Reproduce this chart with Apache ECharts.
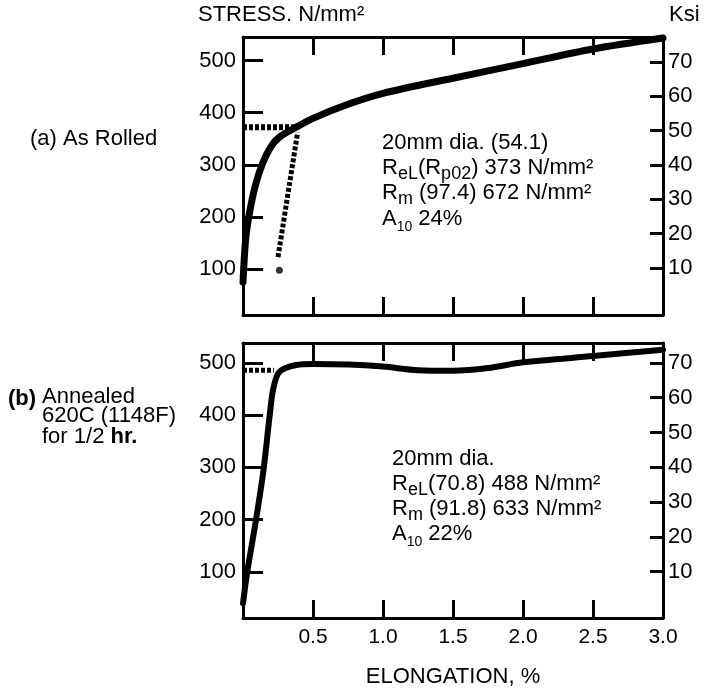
<!DOCTYPE html>
<html>
<head>
<meta charset="utf-8">
<script src="https://cdn.jsdelivr.net/npm/echarts@6/dist/echarts.min.js"></script>
<style>
  html, body { margin: 0; padding: 0; background: #fff; }
  #chart { width: 709px; height: 689px; }
</style>
</head>
<body>
<div id="chart"></div>
<script>
const FONT = "Liberation Sans"

// (a) as rolled
const rolledElongation = [0, 0.02, 0.05, 0.09, 0.14, 0.2, 0.26, 0.38, 0.5, 0.75, 1.0, 1.5, 2.0, 2.5, 3.0]
const rolledStress = [75, 160, 213, 262, 303, 335, 353, 372, 389, 416, 437, 466, 494, 522, 543]
const rolledYieldX = [0, 0.38]
const rolledYieldY = [372, 372]
const rolledOffsetX = [0.25, 0.39]
const rolledOffsetY = [123, 362]
const rolledOffsetDot = [0.26, 98]

// (b) annealed 620C for 1/2 hr
const annealedElongation = [0, 0.03, 0.09, 0.145, 0.19, 0.215, 0.26, 0.38, 0.5, 0.75, 1.0, 1.25, 1.5, 1.75, 2.0, 2.5, 3.0]
const annealedStress = [40, 100, 195, 292, 398, 449, 483, 496, 498, 497, 493, 486, 485, 490, 501, 513, 525]
const annealedYieldX = [0, 0.22]
const annealedYieldY = [486, 486]

const stressTicks = [100, 200, 300, 400, 500]
const ksiTicks = [10, 20, 30, 40, 50, 60, 70]
const elongationTicks = [0.5, 1.0, 1.5, 2.0, 2.5]
const elongationLabels = [0.5, 1.0, 1.5, 2.0, 2.5, 3.0]

const zip = (xs, ys) => xs.map((x, i) => [x, ys[i]])
const black = "#000"
const labelStyle = { color: black, fontFamily: FONT, fontSize: 22 }

function xAxisFor(gridIndex, position, showLabels) {
  return {
    type: "value",
    gridIndex: gridIndex,
    position: position,
    min: 0,
    max: 3,
    axisLine: { show: true, onZero: false, lineStyle: { color: black, width: 3 } },
    axisTick: { show: true, inside: true, length: 18, customValues: elongationTicks, lineStyle: { color: black, width: 3 } },
    axisLabel: Object.assign({}, labelStyle, { show: showLabels, customValues: elongationLabels, margin: 9, fontSize: 21, formatter: (v) => v.toFixed(1) }),
    splitLine: { show: false },
    name: showLabels ? "ELONGATION, %" : "",
    nameLocation: "middle",
    nameGap: 48,
    nameTextStyle: labelStyle
  }
}

function stressAxis(gridIndex, max) {
  return {
    type: "value",
    gridIndex: gridIndex,
    position: "left",
    min: 12,
    max: max,
    axisLine: { show: true, onZero: false, lineStyle: { color: black, width: 3 } },
    axisTick: { show: true, inside: true, length: 20, customValues: stressTicks, lineStyle: { color: black, width: 3 } },
    axisLabel: Object.assign({ customValues: stressTicks, margin: 7 }, labelStyle),
    splitLine: { show: false }
  }
}

function ksiAxis(gridIndex, min, max) {
  return {
    type: "value",
    gridIndex: gridIndex,
    position: "right",
    min: min,
    max: max,
    axisLine: { show: true, onZero: false, lineStyle: { color: black, width: 3 } },
    axisTick: { show: true, inside: true, length: 13, customValues: ksiTicks, lineStyle: { color: black, width: 3 } },
    axisLabel: Object.assign({ customValues: ksiTicks, margin: 5 }, labelStyle),
    splitLine: { show: false }
  }
}

function curve(xIndex, yIndex, data, width) {
  return {
    type: "line",
    xAxisIndex: xIndex,
    yAxisIndex: yIndex,
    data: data,
    smooth: 0.3,
    showSymbol: false,
    silent: true,
    lineStyle: { color: black, width: width, cap: "round", join: "round" }
  }
}

function dotted(xIndex, yIndex, data, width) {
  return {
    type: "line",
    xAxisIndex: xIndex,
    yAxisIndex: yIndex,
    data: data,
    showSymbol: false,
    silent: true,
    lineStyle: { color: black, width: width, type: [4, 2], cap: "butt" }
  }
}

const rich = {
  sub: { fontFamily: FONT, fontSize: 18, lineHeight: 17, verticalAlign: "bottom", fill: black },
  small: { fontFamily: FONT, fontSize: 14, lineHeight: 13, verticalAlign: "bottom", fill: black },
  bold: { fontFamily: FONT, fontSize: 22, fontWeight: "bold", fill: black }
}

function note(x, y, text) {
  return {
    type: "text",
    x: x,
    y: y,
    silent: true,
    style: { text: text, fontFamily: FONT, fontSize: 22, lineHeight: 30, fill: black, verticalAlign: "middle", rich: rich }
  }
}

const chart = echarts.init(document.getElementById("chart"), null, { renderer: "canvas" })

chart.setOption({
  animation: false,
  backgroundColor: "#fff",
  grid: [
    { left: 243, top: 37, width: 420, height: 278 },
    { left: 243, top: 343, width: 420, height: 279 }
  ],
  xAxis: [
    xAxisFor(0, "bottom", false),
    xAxisFor(0, "top", false),
    xAxisFor(1, "bottom", true),
    xAxisFor(1, "top", false)
  ],
  yAxis: [
    stressAxis(0, 545),
    ksiAxis(0, -3.7, 77.3),
    stressAxis(1, 538),
    ksiAxis(1, -3.3, 75.7)
  ],
  series: [
    curve(0, 0, zip(rolledElongation, rolledStress), 7),
    dotted(0, 0, zip(rolledYieldX, rolledYieldY), 6),
    dotted(0, 0, zip(rolledOffsetX, rolledOffsetY), 5),
    {
      type: "scatter",
      xAxisIndex: 0,
      yAxisIndex: 0,
      data: [rolledOffsetDot],
      symbolSize: 7,
      silent: true,
      itemStyle: { color: black }
    },
    curve(2, 2, zip(annealedElongation, annealedStress), 6),
    dotted(2, 2, zip(annealedYieldX, annealedYieldY), 5)
  ],
  graphic: [
    note(198, 15, "STRESS. N/mm²"),
    note(669, 15, "Ksi"),
    note(30, 139, "(a) As Rolled"),
    note(8, 399, "{bold|(b)}"),
    note(42, 397, "Annealed"),
    note(42, 416, "620C (1148F)"),
    note(42, 437, "for 1/2 {bold|hr.}"),
    note(382, 143, "20mm dia. (54.1)"),
    note(382, 168, "R{sub|eL}(R{sub|p02}) 373 N/mm²"),
    note(382, 193, "R{sub|m} (97.4) 672 N/mm²"),
    note(382, 219, "A{small|10} 24%"),
    note(392, 459, "20mm dia."),
    note(392, 484, "R{sub|eL}(70.8) 488 N/mm²"),
    note(392, 509, "R{sub|m} (91.8) 633 N/mm²"),
    note(392, 534, "A{small|10} 22%")
  ]
})
</script>
</body>
</html>
